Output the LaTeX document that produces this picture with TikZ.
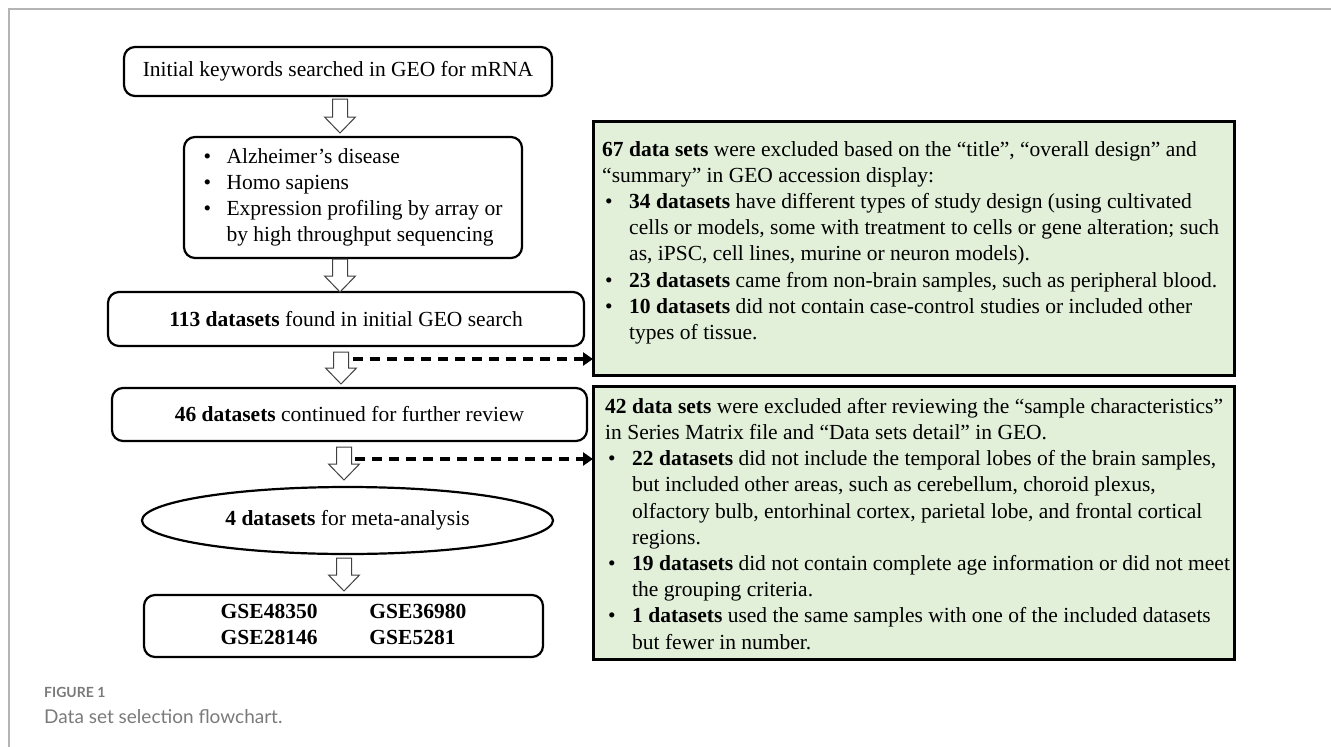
\documentclass[tikz,border=0pt]{standalone}
\usepackage{fontspec}
\setmainfont{Liberation Serif}
\newfontfamily\capfont{Lato}
\usetikzlibrary{shapes.geometric,arrows.meta}
\definecolor{exgreen}{HTML}{E2EFD9}
\definecolor{framegray}{HTML}{B4B4B4}
\definecolor{capgray}{HTML}{7A7A7A}
\newcommand{\keybul}{\makebox[23pt][l]{\textbullet}}
\newcommand{\exbul}{\hspace*{3pt}\makebox[24pt][l]{\textbullet}}
\newcommand{\exind}{\hspace*{27pt}}
\newcommand{\hollowarrow}[3]{%
  \draw[hollow] (#1-7.5,#2) -- (#1+7.5,#2) -- (#1+7.5,#3-16) -- (#1+15.5,#3-16)
    -- (#1,#3) -- (#1-15.5,#3-16) -- (#1-7.5,#3-16) -- cycle;}
\tikzset{
  flowbox/.style={draw, line width=2.2pt, rounded corners=11pt, inner sep=0pt},
  exbox/.style={fill=exgreen, anchor=north west, inner sep=0pt},
  exborder/.style={line width=3pt},
  extext/.style={anchor=north west, align=left, inner sep=0pt},
  hollow/.style={draw=black!75, fill=white, line width=1pt},
  dasharrow/.style={line width=3.2pt, dash pattern=on 10pt off 7pt, -{Triangle[length=10pt,width=13pt]}}
}
\begin{document}
\begin{tikzpicture}[x=1pt, y=-1pt, font=\fontsize{21.5}{26.2}\selectfont]
	\useasboundingbox (0,0) rectangle (1331,747);
	\draw[framegray, line width=1.5pt] (9,747) -- (9,9) -- (1331,9);
	% left column
	\node[flowbox, minimum width=428, minimum height=49] (start) at (338,71.5) {Initial keywords searched in GEO for mRNA};
	\node[flowbox, minimum width=338, minimum height=121, align=left] (keys) at (353,197.5)
		{\keybul Alzheimer’s disease\\ \keybul Homo sapiens\\ \keybul Expression profiling by array or\\ \hspace*{23pt}by high throughput sequencing};
	\node[flowbox, minimum width=476, minimum height=54] (found) at (346,319) {\textbf{113 datasets} found in initial GEO search};
	\node[flowbox, minimum width=475, minimum height=53] (review) at (349.5,414.5) {\textbf{46 datasets} continued for further review};
	\node[draw, ellipse, line width=2.2pt, minimum width=411, minimum height=67, inner sep=0pt] (meta) at (347.5,520.5) {\textbf{4 datasets} for meta-analysis};
	\node[flowbox, minimum width=399, minimum height=62] (final) at (343.5,626)
		{\begin{tabular}{@{}l@{\hspace{52pt}}l@{}}\textbf{GSE48350} & \textbf{GSE36980}\\ \textbf{GSE28146} & \textbf{GSE5281}\end{tabular}};
	\hollowarrow{340}{99}{133}
	\hollowarrow{340}{259}{292}
	\hollowarrow{341}{352}{384}
	\hollowarrow{344}{447}{480}
	\hollowarrow{344}{558}{591}
	% exclusion boxes
	\node[exbox, minimum width=641, minimum height=254] (excl1) at (593,121) {};
	\node[extext] (excl1txt) at (602,141) {\textbf{67 data sets} were excluded based on the “title”, “overall design” and\\
		“summary” in GEO accession display:\\
		\exbul\textbf{34 datasets} have different types of study design (using cultivated\\
		\exind cells or models, some with treatment to cells or gene alteration; such\\
		\exind as, iPSC, cell lines, murine or neuron models).\\
		\exbul\textbf{23 datasets} came from non-brain samples, such as peripheral blood.\\
		\exbul\textbf{10 datasets} did not contain case-control studies or included other\\
		\exind types of tissue.};
	\draw[exborder] (excl1.north west) rectangle (excl1.south east);
	\node[exbox, minimum width=641, minimum height=273] (excl2) at (593,386) {};
	\node[extext] (excl2txt) at (605,398) {\textbf{42 data sets} were excluded after reviewing the “sample characteristics”\\
		in Series Matrix file and “Data sets detail” in GEO.\\
		\exbul\textbf{22 datasets} did not include the temporal lobes of the brain samples,\\
		\exind but included other areas, such as cerebellum, choroid plexus,\\
		\exind olfactory bulb, entorhinal cortex, parietal lobe, and frontal cortical\\
		\exind regions.\\
		\exbul\textbf{19 datasets} did not contain complete age information or did not meet\\
		\exind the grouping criteria.\\
		\exbul\textbf{1 datasets} used the same samples with one of the included datasets\\
		\exind but fewer in number.};
	\draw[exborder] (excl2.north west) rectangle (excl2.south east);
	% dashed connectors
	\coordinate (d1) at (353,359);
	\coordinate (d2) at (355,459);
	\draw[dasharrow] (d1) -- (d1 -| excl1.west);
	\draw[dasharrow] (d2) -- (d2 -| excl2.west);
	% caption
	\node[anchor=west, inner sep=0pt, text=capgray, font=\capfont\bfseries\fontsize{14}{16}\selectfont] (fignum) at (44,692) {FIGURE 1};
	\node[anchor=west, inner sep=0pt, text=capgray, font=\capfont\fontsize{19}{22}\selectfont] (figcap) at (44,717) {Data set selection flowchart.};
\end{tikzpicture}
\end{document}
